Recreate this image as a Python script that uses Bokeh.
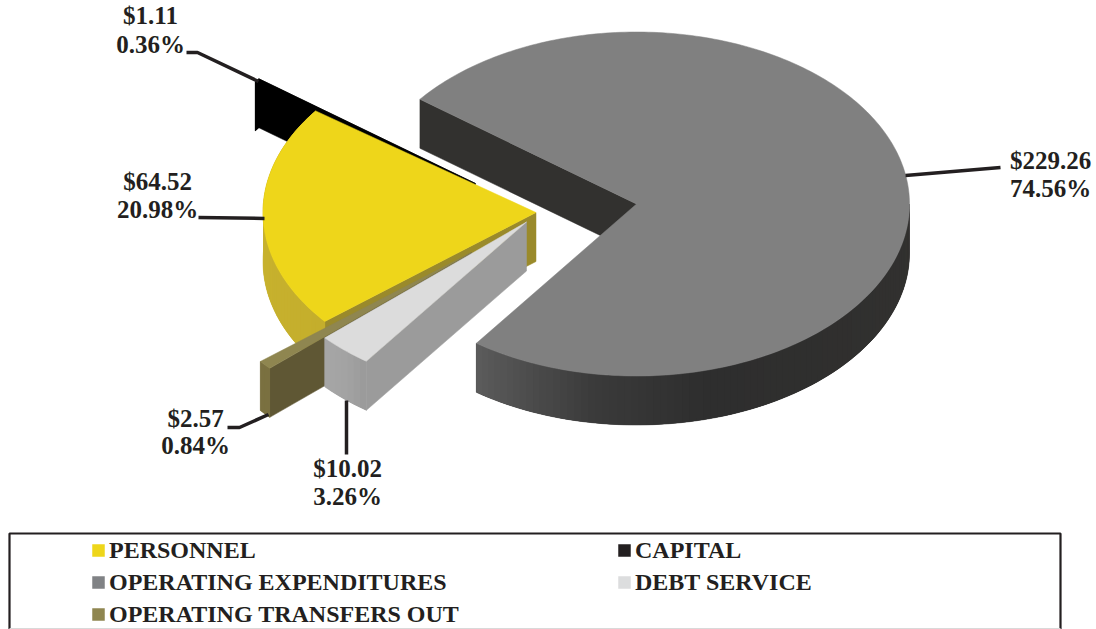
import math
from bokeh.plotting import figure
from bokeh.core.properties import value
from bokeh.embed import file_html
from bokeh.resources import INLINE

# ---- data ----
categories = ["CAPITAL", "PERSONNEL", "OPERATING TRANSFERS OUT", "DEBT SERVICE", "OPERATING EXPENDITURES"]
amounts = [1.11, 64.52, 2.57, 10.02, 229.26]
percents = [0.36, 20.98, 0.84, 3.26, 74.56]
legend_order = ["PERSONNEL", "CAPITAL", "OPERATING EXPENDITURES", "DEBT SERVICE", "OPERATING TRANSFERS OUT"]
legend_colors = ["#eed61a", "#231f20", "#808285", "#dcddde", "#8f8650"]

# ---- projection and styling ----
W, H = 1096, 629
RX, RY, DEPTH = 273, 172, 49
START = 142.5
INK = "#231f20"
FONT = value("Liberation Serif")
apex = {
    "CAPITAL": (475, 183),
    "PERSONNEL": (535.5, 212),
    "OPERATING TRANSFERS OUT": (471, 252),
    "DEBT SERVICE": (526, 221.5),
    "OPERATING EXPENDITURES": (636, 203.5),
}
top_col = {
    "CAPITAL": "#000000", "PERSONNEL": "#eed61a", "OPERATING TRANSFERS OUT": "#8f8650",
    "DEBT SERVICE": "#dcdcdc", "OPERATING EXPENDITURES": "#808080",
}
arc_stops = {
    "CAPITAL": [(0, "#000000"), (1, "#000000")],
    "PERSONNEL": [(0, "#b8a52e"), (0.5, "#c8b22e"), (1, "#c4ae2c")],
    "OPERATING TRANSFERS OUT": [(0, "#7a7040"), (1, "#7a7040")],
    "DEBT SERVICE": [(0, "#a6a6a6"), (0.6, "#a2a2a2"), (1, "#9a9a9a")],
    "OPERATING EXPENDITURES": [(0, "#5c5c5c"), (0.22, "#3a3a3a"), (0.4, "#2e2e2e"), (1, "#32312f")],
}
radial_col = {
    "CAPITAL": "#000000", "PERSONNEL": "#9a8a2b", "OPERATING TRANSFERS OUT": "#5f5734",
    "DEBT SERVICE": "#9b9b9b",
}
first_col = "#32312f"


def mix(stops, f):
    for (f0, c0), (f1, c1) in zip(stops, stops[1:]):
        if f <= f1:
            k = (f - f0) / max(f1 - f0, 1e-9)
            a = [int(c0[i:i + 2], 16) for i in (1, 3, 5)]
            b = [int(c1[i:i + 2], 16) for i in (1, 3, 5)]
            return "#%02x%02x%02x" % tuple(round(x + (y - x) * k) for x, y in zip(a, b))
    return stops[-1][1]


def pt(c, t):
    r = math.radians(t)
    return c[0] + RX * math.cos(r), c[1] - RY * math.sin(r)


# the range starts at -8 so that one data unit equals one pixel of the page
p = figure(width=W + 8, height=H + 8, x_range=(-8, W), y_range=(H, -8), output_backend="svg",
           toolbar_location=None, min_border=0, outline_line_color=None,
           margin=(-8, 0, 0, -8))
p.axis.visible = False
p.grid.visible = False
p.background_fill_color = "#ffffff"
p.border_fill_color = "#ffffff"


def poly(xs, ys, color, lw=0.5):
    p.patch(xs, ys, fill_color=color, line_color=color, line_width=lw)


spans = {}
a = START
for name, pc in zip(categories, percents):
    spans[name] = (a, a + pc * 3.6)
    a += pc * 3.6


def slice_3d(name, first_wall=False, last_wall=False):
    c = apex[name]
    t0, t1 = spans[name]
    if first_wall:
        o = pt(c, t1)
        poly([c[0], o[0], o[0], c[0]], [c[1], o[1], o[1] + DEPTH, c[1] + DEPTH], first_col)
    if last_wall:
        o = pt(c, t1)
        poly([c[0], o[0], o[0], c[0]], [c[1], o[1], o[1] + DEPTH, c[1] + DEPTH], radial_col[name])
    w0, w1 = max(t0, 0), min(t1, 360)
    if name == "CAPITAL":
        o = pt(c, t0)
        poly([c[0], o[0], o[0], c[0]], [c[1], o[1], o[1] + DEPTH, c[1] + DEPTH], radial_col[name])
    # the curved wall: one silhouette, then narrow strips painted over it with overlap
    n = max(2, int((w1 - w0) / 1.5))
    sil = [pt(c, w0 + (w1 - w0) * i / n) for i in range(n + 1)]
    poly([q[0] for q in sil] + [q[0] for q in reversed(sil)],
         [q[1] for q in sil] + [q[1] + DEPTH for q in reversed(sil)],
         mix(arc_stops[name], 0.5))
    for i in range(n):
        A, B = sil[i], sil[min(i + 2, n)]
        col = mix(arc_stops[name], (i + 0.5) / n)
        p.patch([A[0], B[0], B[0], A[0]], [A[1], B[1], B[1] + DEPTH, A[1] + DEPTH],
                fill_color=col, line_color=None)
    m = max(4, int(t1 - t0))
    pts = [pt(c, t0 + (t1 - t0) * i / m) for i in range(m + 1)]
    poly([c[0]] + [q[0] for q in pts], [c[1]] + [q[1] for q in pts], top_col[name])


slice_3d("OPERATING EXPENDITURES", first_wall=True)
slice_3d("CAPITAL")
slice_3d("PERSONNEL", last_wall=True)
slice_3d("OPERATING TRANSFERS OUT", last_wall=True)
slice_3d("DEBT SERVICE", last_wall=True)

leaders = {
    "CAPITAL": ([186, 197, 258], [52, 52, 81]),
    "PERSONNEL": ([198, 264], [217, 218]),
    "OPERATING TRANSFERS OUT": ([227, 239, 268], [427, 427, 414]),
    "DEBT SERVICE": ([346, 346], [400, 454]),
    "OPERATING EXPENDITURES": ([905, 1000], [175, 167]),
}
for name in categories:
    xs, ys = leaders[name]
    p.line(xs, ys, line_color=INK, line_width=3.5)

label_pos = {
    "CAPITAL": (150, 15, 44),
    "PERSONNEL": (157, 181, 209),
    "OPERATING TRANSFERS OUT": (195, 418, 445),
    "DEBT SERVICE": (347, 468, 496),
    "OPERATING EXPENDITURES": (1050, 160, 188),
}
for name, am, pc in zip(categories, amounts, percents):
    x, y0, y1 = label_pos[name]
    p.text([x, x], [y0, y1], text=[f"${am:.2f}", f"{pc:.2f}%"], text_font=FONT, text_font_size="25px",
           text_font_style="bold", text_color=INK, text_align="center", text_baseline="middle")

p.line([9, 9, 1060, 1060], [629, 533, 533, 629], line_color=INK, line_width=2.2)
p.line([9, 1060], [628, 628], line_color="#d9d9d9", line_width=1)
leg_x = [98, 624, 98, 624, 98]
leg_y = [549, 549, 581, 581, 613]
for name, col, x, y in zip(legend_order, legend_colors, leg_x, leg_y):
    p.scatter([x], [y + 1], marker="square", size=12.5, fill_color=col, line_color=None)
    p.text([x + 10.5], [y], text=[name], text_font=FONT, text_font_size="24px", text_font_style="bold",
           text_color=INK, text_align="left", text_baseline="middle")

open("out.html", "w").write(file_html(p, INLINE))
